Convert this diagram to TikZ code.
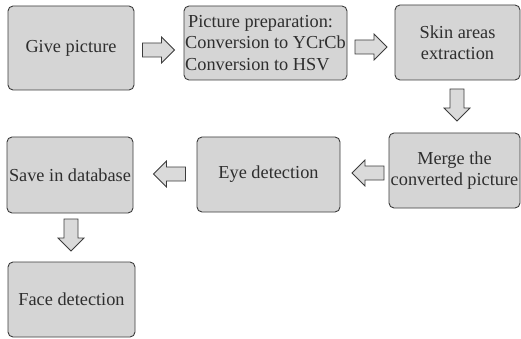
\documentclass[tikz,border=0pt]{standalone}
\usepackage{fontspec}
\setmainfont{Liberation Serif}
\definecolor{boxfill}{HTML}{D5D5D5}
\definecolor{boxline}{HTML}{3C3C3C}
\definecolor{txt}{HTML}{2E2E2E}
\definecolor{arrfill}{HTML}{DADADA}
\begin{document}
\begin{tikzpicture}[x=1pt,y=-1pt,
  stepbox/.style={draw=boxline,line width=0.9pt,fill=boxfill,rounded corners=5pt,
    inner sep=0pt,align=center,text=txt,font=\fontsize{18.3pt}{21.5pt}\selectfont},
  blockarr/.pic={\draw[draw=boxline,line width=0.8pt,fill=arrfill,line join=miter]
    (-16,-7) -- (3,-7) -- (3,-13) -- (16,0) -- (3,13) -- (3,7) -- (-16,7) -- cycle;}]
\useasboundingbox (0,0) rectangle (521,339);
\node[stepbox,minimum width=126pt,minimum height=84pt] (g) at (71,48) {Give picture};
\node[stepbox,minimum width=163pt,minimum height=74pt,align=left] (p) at (265.5,43)
  {\hspace{3pt}Picture preparation:\\Conversion to YCrCb\\Conversion to HSV};
\node[stepbox,minimum width=125pt,minimum height=75pt] (s) at (457.5,42.5) {Skin areas\\extraction};
\node[stepbox,minimum width=131pt,minimum height=75pt] (m) at (454.5,170.5) {Merge the\\converted picture};
\node[stepbox,minimum width=143pt,minimum height=75pt] (e) at (268.5,174.5) {Eye detection};
\node[stepbox,minimum width=126pt,minimum height=76pt] (d) at (70,175) {Save in database};
\node[stepbox,minimum width=127pt,minimum height=75pt] (f) at (71.5,299.5) {Face detection};
\pic at (158.5,50) {blockarr};
\pic at (371,47) {blockarr};
\pic[rotate=-90] at (457,105) {blockarr};
\pic[rotate=180] at (169.5,174) {blockarr};
\pic[rotate=180] at (368,173) {blockarr};
\pic[rotate=-90] at (71,235) {blockarr};
\end{tikzpicture}
\end{document}
